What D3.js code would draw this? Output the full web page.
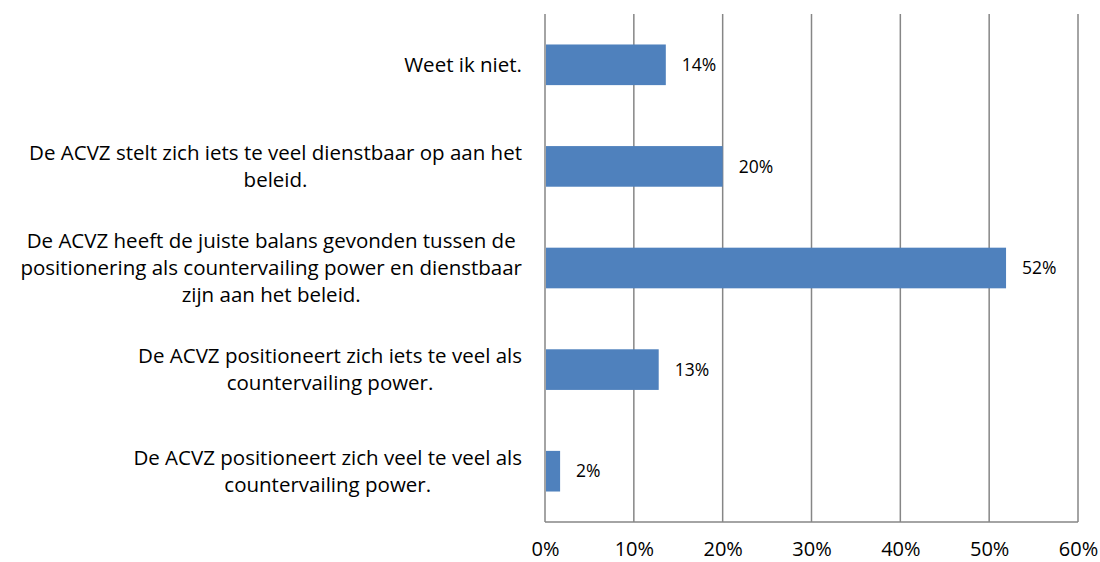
<!DOCTYPE html>
<html>
<head>
<meta charset="utf-8">
<script src="https://cdn.jsdelivr.net/npm/d3@7"></script>
<style>
  body { margin: 0; background: #fff; }
  text { font-family: "Open Sans", sans-serif; fill: #000; }
</style>
</head>
<body>
<div id="vis-container"></div>
<script>
//width and height
var w = 1100;
var h = 562;

// categories top to bottom, pre-wrapped as in the source chart
var categories = [
    ["Weet ik niet."],
    ["De ACVZ stelt zich iets te veel dienstbaar op aan het", "beleid."],
    ["De ACVZ heeft de juiste balans gevonden tussen de", "positionering als countervailing power en dienstbaar", "zijn aan het beleid."],
    ["De ACVZ positioneert zich iets te veel als", "countervailing power."],
    ["De ACVZ positioneert zich veel te veel als", "countervailing power."]
];
var values = [0.136, 0.200, 0.519, 0.128, 0.017];
var ticks = [0, 0.1, 0.2, 0.3, 0.4, 0.5, 0.6];

var plotLeft = 545, plotRight = 1078, plotTop = 14, plotBottom = 522;

var svg = d3.select("#vis-container")
    .append("svg")
    .attr("width", w)
    .attr("height", h);

//scale function
var xScale = d3.scaleLinear()
    .domain([0, 0.6])
    .range([plotLeft, plotRight]);

var yScale = d3.scaleBand()
    .domain(d3.range(categories.length))
    .range([plotTop, plotBottom])
    .paddingInner(0.6)
    .paddingOuter(0.3);

// gridlines
svg.selectAll(".grid")
    .data(ticks)
    .enter()
    .append("line")
    .attr("x1", function (d) { return xScale(d); })
    .attr("x2", function (d) { return xScale(d); })
    .attr("y1", plotTop)
    .attr("y2", plotBottom)
    .attr("stroke", "#868686")
    .attr("stroke-width", 1.5);

// baseline
svg.append("line")
    .attr("x1", plotLeft)
    .attr("x2", plotRight)
    .attr("y1", plotBottom)
    .attr("y2", plotBottom)
    .attr("stroke", "#868686")
    .attr("stroke-width", 1.5);

// x axis labels
var xAxis = d3.axisBottom(xScale).tickValues(ticks).tickFormat(d3.format(".0%")).tickSize(0).tickPadding(20);
var gx = svg.append("g")
    .attr("transform", "translate(0," + plotBottom + ")")
    .call(xAxis);
gx.select(".domain").remove();
gx.selectAll("text").style("font-size", "20px").attr("fill", "#000");

// bars
svg.selectAll(".bar")
    .data(values)
    .enter()
    .append("rect")
    .attr("class", "bar")
    .attr("x", xScale(0) + 1)
    .attr("y", function (d, i) { return yScale(i); })
    .attr("width", function (d) { return xScale(d) - xScale(0) - 1; })
    .attr("height", yScale.bandwidth())
    .attr("fill", "#4F81BD");

// value labels
svg.selectAll(".val")
    .data(values)
    .enter()
    .append("text")
    .attr("class", "val")
    .attr("x", function (d) { return xScale(d) + 16; })
    .attr("y", function (d, i) { return yScale(i) + yScale.bandwidth() / 2; })
    .attr("dy", ".35em")
    .style("font-size", "17.5px")
    .text(function (d) { return d3.format(".0%")(d); });

// category labels: lines centred on each other, block right aligned
var labelRight = 522;
var lineH = 27;
categories.forEach(function (lines, i) {
    var cy = yScale(i) + yScale.bandwidth() / 2;
    var g = svg.append("g");
    var txt = g.selectAll("text")
        .data(lines)
        .enter()
        .append("text")
        .style("font-size", "20.5px")
        .attr("text-anchor", "middle")
        .attr("dy", ".35em")
        .attr("y", function (d, j) { return cy + (j - (lines.length - 1) / 2) * lineH; })
        .text(function (d) { return d; });
    var maxW = 0;
    txt.each(function () { maxW = Math.max(maxW, this.getComputedTextLength()); });
    txt.attr("x", labelRight - maxW / 2);
});
</script>
</body>
</html>
